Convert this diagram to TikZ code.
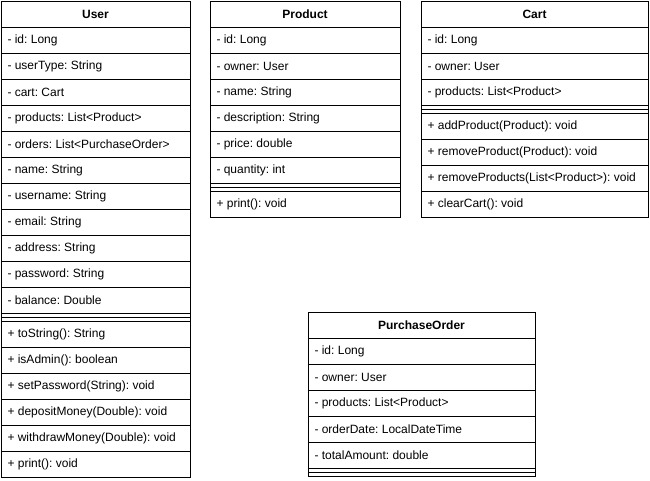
\documentclass[tikz,border=0pt]{standalone}
\usepackage{fontspec}
\setmainfont{Liberation Sans}
\frenchspacing
\begin{document}
\frenchspacing
\begin{tikzpicture}[x=1pt,y=-1pt,line width=1pt,
  box/.style={draw,line width=1pt},
  sep/.style={draw,line width=1pt},
  attr/.style={anchor=west,inner sep=0pt,font=\fontsize{12}{14}\selectfont\frenchspacing},
  head/.style={inner sep=0pt,font=\fontsize{12}{14}\selectfont\bfseries}]
\useasboundingbox (0,0) rectangle (650,480);
\fill[white] (0,0) rectangle (650,480);

% ---------------- User ----------------
\draw[box] (1,1) rectangle (190,477);
\node[head] (userh) at (95.5,14) {User};
\draw[sep] (1,27) -- (190,27);
\foreach \t [count=\i] in {id: Long,userType: String,cart: Cart,products: List<Product>,orders: List<PurchaseOrder>,name: String,username: String,email: String,address: String,password: String,balance: Double}{
  \node[attr] (usera\i) at (7,{14+26*\i}) {- \t};
  \draw[sep] (1,{27+26*\i}) -- (190,{27+26*\i});
}
\draw[sep] (1,317) -- (190,317);
\draw[sep] (1,321) -- (190,321);
\foreach \t [count=\i] in {toString(): String,isAdmin(): boolean,setPassword(String): void,depositMoney(Double): void,withdrawMoney(Double): void,print(): void}{
  \node[attr] (userm\i) at (7,{308+26*\i}) {+ \t};
}
\foreach \i in {1,...,5}{
  \draw[sep] (1,{321+26*\i}) -- (190,{321+26*\i});
}

% ---------------- Product ----------------
\draw[box] (210,1) rectangle (400,217);
\node[head] (producth) at (305,14) {Product};
\draw[sep] (210,27) -- (400,27);
\foreach \t [count=\i] in {id: Long,owner: User,name: String,description: String,price: double,quantity: int}{
  \node[attr] (producta\i) at (216,{14+26*\i}) {- \t};
  \draw[sep] (210,{27+26*\i}) -- (400,{27+26*\i});
}
\draw[sep] (210,187) -- (400,187);
\draw[sep] (210,191) -- (400,191);
\node[attr] (productm1) at (216,204) {+ print(): void};

% ---------------- Cart ----------------
\draw[box] (421,1) rectangle (648,217);
\node[head] (carth) at (534.5,14) {Cart};
\draw[sep] (421,27) -- (648,27);
\foreach \t [count=\i] in {id: Long,owner: User,products: List<Product>}{
  \node[attr] (carta\i) at (427,{14+26*\i}) {- \t};
  \draw[sep] (421,{27+26*\i}) -- (648,{27+26*\i});
}
\draw[sep] (421,109) -- (648,109);
\draw[sep] (421,113) -- (648,113);
\foreach \t [count=\i] in {addProduct(Product): void,removeProduct(Product): void,removeProducts(List<Product>): void,clearCart(): void}{
  \node[attr] (cartm\i) at (427,{100+26*\i}) {+ \t};
}
\foreach \i in {1,...,3}{
  \draw[sep] (421,{113+26*\i}) -- (648,{113+26*\i});
}

% ---------------- PurchaseOrder ----------------
\draw[box] (308,312) rectangle (535,476);
\node[head] (orderh) at (421.5,325) {PurchaseOrder};
\draw[sep] (308,338) -- (535,338);
\foreach \t [count=\i] in {id: Long,owner: User,products: List<Product>,orderDate: LocalDateTime,totalAmount: double}{
  \node[attr] (ordera\i) at (314,{325+26*\i}) {- \t};
  \draw[sep] (308,{338+26*\i}) -- (535,{338+26*\i});
}
\draw[sep] (308,472) -- (535,472);
\end{tikzpicture}
\end{document}
